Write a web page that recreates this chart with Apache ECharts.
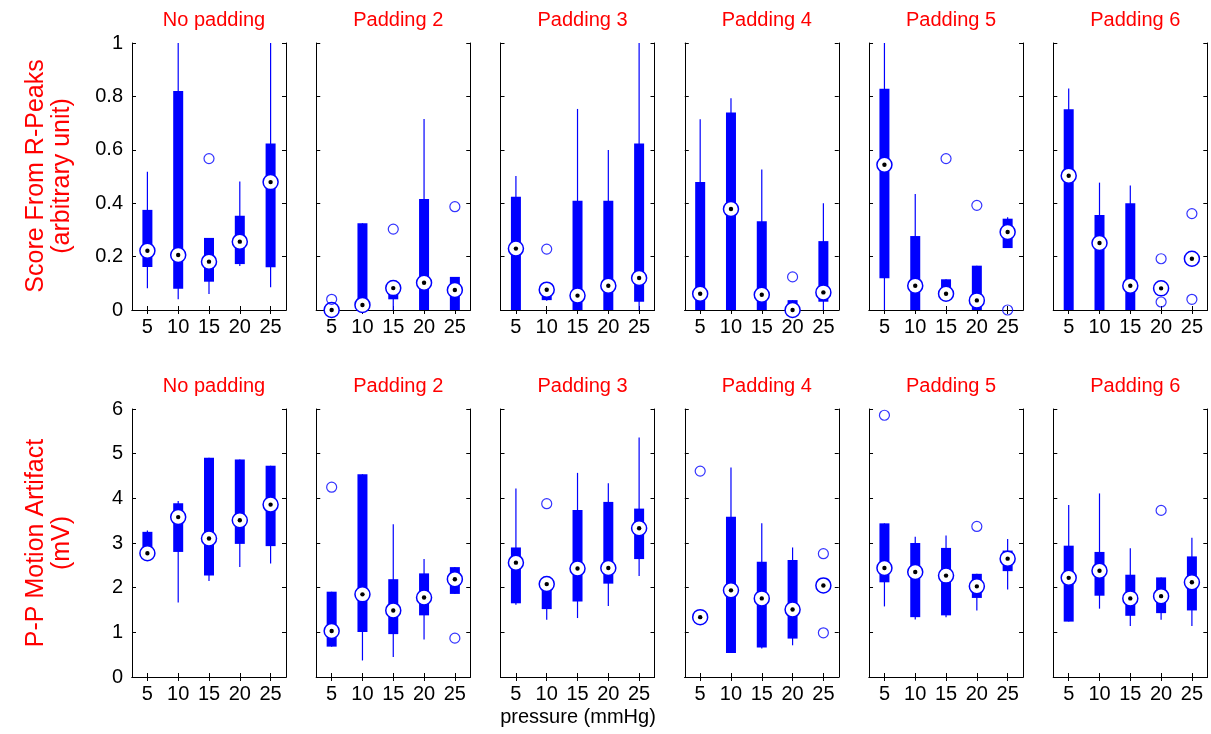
<!DOCTYPE html>
<html>
<head>
<meta charset="utf-8">
<script src="https://cdn.jsdelivr.net/npm/echarts@6/dist/echarts.min.js"></script>
<style>
  html, body { margin: 0; padding: 0; background: #ffffff; }
  #chart { width: 1211px; height: 734px; }
</style>
</head>
<body>
<div id="chart"></div>
<script>
// Pressure levels on every panel's x axis
const pressures = ['5', '10', '15', '20', '25'];
const panelTitles = ['No padding', 'Padding 2', 'Padding 3', 'Padding 4', 'Padding 5', 'Padding 6'];

// Score from R-peaks (arbitrary unit): one row of five pressures per padding level
const scoreLow  = [[0.081,0.040,0.060,0.165,0.085],[0,0,0,0,0],[0,0.035,0,0,0],[0,0,0,0,0],[0,0,0.05,0,0.232],[0,0,0,0.08,0.192]];
const scoreQ1   = [[0.161,0.080,0.106,0.172,0.160],[0,0,0.040,0,0],[0,0.037,0,0,0.031],[0,0,0,0,0.031],[0.119,0,0.05,0,0.232],[0,0,0,0.08,0.192]];
const scoreMed  = [[0.222,0.206,0.181,0.256,0.479],[0,0.019,0.082,0.102,0.075],[0.230,0.076,0.054,0.091,0.120],[0.061,0.378,0.057,0,0.066],[0.544,0.091,0.061,0.036,0.292],[0.503,0.251,0.091,0.081,0.192]];
const scoreQ3   = [[0.375,0.820,0.270,0.353,0.624],[0,0.325,0.096,0.416,0.124],[0.424,0.080,0.409,0.409,0.624],[0.479,0.740,0.332,0.037,0.258],[0.829,0.277,0.115,0.166,0.342],[0.752,0.356,0.400,0.082,0.192]];
const scoreHigh = [[0.518,1.0,0.270,0.481,1.0],[0,0.325,0.096,0.715,0.124],[0.502,0.080,0.753,0.599,1.0],[0.714,0.793,0.526,0.037,0.400],[1.0,0.434,0.115,0.166,0.347],[0.830,0.477,0.466,0.082,0.192]];
// Outliers as [pressure index, value]
const scoreOutliers = [[[2,0.567]],[[0,0.04],[2,0.303],[4,0.387]],[[1,0.228]],[[3,0.124]],[[2,0.567],[3,0.392],[4,0]],[[3,0.192],[3,0.030],[4,0.361],[4,0.040]]];

// P-P motion artifact (mV)
const ppLow  = [[2.77,1.67,2.15,2.46,2.54],[0.68,0.37,0.45,0.84,1.86],[1.62,1.28,1.32,1.59,2.26],[1.17,0.54,0.64,0.71,2.02],[1.58,1.29,1.34,1.49,1.96],[1.24,1.53,1.14,1.28,1.14]];
const ppQ1   = [[2.77,2.80,2.27,2.98,2.93],[0.68,1.01,0.96,1.38,1.86],[1.65,1.52,1.69,2.09,2.64],[1.34,0.54,0.66,0.86,2.02],[2.12,1.34,1.38,1.77,2.37],[1.24,1.82,1.37,1.43,1.49]];
const ppMed  = [[2.77,3.58,3.10,3.51,3.86],[1.03,1.85,1.49,1.78,2.19],[2.56,2.08,2.43,2.44,3.33],[1.34,1.94,1.76,1.51,2.05],[2.44,2.35,2.27,2.03,2.65],[2.22,2.38,1.76,1.81,2.12]];
const ppQ3   = [[3.25,3.89,4.91,4.87,4.73],[1.91,4.54,2.19,2.32,2.46],[2.90,2.10,3.74,3.92,3.77],[1.34,3.59,2.58,2.62,2.20],[3.44,3.00,2.89,2.31,2.83],[2.94,2.80,2.29,2.23,2.70]];
const ppHigh = [[3.28,3.94,4.91,4.87,4.73],[1.91,4.54,3.42,2.64,2.46],[4.22,2.10,4.57,4.34,5.36],[1.34,4.69,3.44,2.90,2.20],[3.44,3.14,3.17,2.31,3.09],[3.85,4.11,2.88,2.23,3.12]];
const ppOutliers = [[],[[0,4.25],[4,0.87]],[[1,3.88]],[[0,4.61],[4,2.76],[4,0.99]],[[0,5.86],[3,3.37]],[[3,3.73]]];

const BLUE = '#0000ff';
const RED = '#ff0000';
const FONT = 'Liberation Sans, Arial, sans-serif';

const rows = [
  { top: 43, height: 267, max: 1, interval: 0.2,
    low: scoreLow, q1: scoreQ1, med: scoreMed, q3: scoreQ3, high: scoreHigh, out: scoreOutliers },
  { top: 409, height: 268, max: 6, interval: 1,
    low: ppLow, q1: ppQ1, med: ppMed, q3: ppQ3, high: ppHigh, out: ppOutliers }
];
const panelLeft0 = 132, panelStep = 184.26, panelWidth = 154;

// Box glyph: thin whisker, thick box, circled median with a centre dot
function renderBox(params, api) {
  const cat = api.value(0);
  const x = api.coord([cat, 0])[0];
  const yLo = api.coord([cat, api.value(1)])[1];
  const yQ1 = api.coord([cat, api.value(2)])[1];
  const yMed = api.coord([cat, api.value(3)])[1];
  const yQ3 = api.coord([cat, api.value(4)])[1];
  const yHi = api.coord([cat, api.value(5)])[1];
  return {
    type: 'group',
    children: [
      { type: 'line', shape: { x1: x, y1: yHi, x2: x, y2: yLo }, style: { stroke: BLUE, lineWidth: 1.2 } },
      { type: 'rect', shape: { x: x - 5, y: yQ3, width: 10, height: Math.max(yQ1 - yQ3, 0) }, style: { fill: BLUE } },
      { type: 'circle', shape: { cx: x, cy: yMed, r: 7.5 }, style: { fill: '#ffffff', stroke: BLUE, lineWidth: 1.5 } },
      { type: 'circle', shape: { cx: x, cy: yMed, r: 2.2 }, style: { fill: '#000000' } }
    ]
  };
}

const grid = [], xAxis = [], yAxis = [], series = [], title = [];
const axisLine = { show: true, lineStyle: { color: '#000', width: 1 } };
const axisTick = { show: true, inside: true, length: 4, lineStyle: { color: '#000' } };

rows.forEach((row, r) => {
  for (let p = 0; p < 6; p++) {
    const gi = grid.length;
    const left = panelLeft0 + p * panelStep;
    grid.push({ left: left, top: row.top, width: panelWidth, height: row.height, containLabel: false });
    title.push({
      text: panelTitles[p], left: left + panelWidth / 2, top: row.top - 38, textAlign: 'center',
      textStyle: { color: RED, fontSize: 20, fontWeight: 'normal', fontFamily: FONT }
    });
    // bottom (labelled) and top (ticks only) category axes
    xAxis.push({
      type: 'category', gridIndex: gi, data: pressures, position: 'bottom', boundaryGap: true,
      axisLine: axisLine, axisTick: Object.assign({ alignWithLabel: true }, axisTick),
      axisLabel: { color: '#000', fontSize: 20, fontFamily: FONT, margin: 7 },
      splitLine: { show: false }
    });
    xAxis.push({
      type: 'category', gridIndex: gi, data: pressures, position: 'top', boundaryGap: true,
      axisLine: axisLine, axisTick: Object.assign({ alignWithLabel: true }, axisTick),
      axisLabel: { show: false }, splitLine: { show: false }
    });
    // left (labelled on first panel) and right (ticks only) value axes
    yAxis.push({
      type: 'value', gridIndex: gi, min: 0, max: row.max, interval: row.interval, position: 'left',
      axisLine: axisLine, axisTick: axisTick,
      axisLabel: { show: p === 0, color: '#000', fontSize: 20, fontFamily: FONT, margin: 9 },
      splitLine: { show: false }
    });
    yAxis.push({
      type: 'value', gridIndex: gi, min: 0, max: row.max, interval: row.interval, position: 'right',
      axisLine: axisLine, axisTick: axisTick, axisLabel: { show: false }, splitLine: { show: false }
    });
    const boxes = pressures.map((_, c) => [c, row.low[p][c], row.q1[p][c], row.med[p][c], row.q3[p][c], row.high[p][c]]);
    series.push({
      type: 'custom', xAxisIndex: gi * 2, yAxisIndex: gi * 2, renderItem: renderBox,
      data: boxes, clip: false, silent: true, z: 2
    });
    series.push({
      type: 'scatter', xAxisIndex: gi * 2, yAxisIndex: gi * 2, data: row.out[p],
      symbol: 'circle', symbolSize: 10, clip: false, silent: true, z: 3,
      itemStyle: { color: 'rgba(0,0,0,0)', borderColor: BLUE, borderWidth: 1.2 }
    });
  }
});

const chart = echarts.init(document.getElementById('chart'), null, { renderer: 'canvas' });
chart.setOption({
  animation: false,
  backgroundColor: '#ffffff',
  title: title,
  grid: grid,
  xAxis: xAxis,
  yAxis: yAxis,
  series: series,
  graphic: [
    { type: 'text', x: 36, y: 176, rotation: Math.PI / 2,
      style: { text: 'Score From R-Peaks', fill: RED, font: '25px ' + FONT, textAlign: 'center', textVerticalAlign: 'middle' } },
    { type: 'text', x: 62, y: 176, rotation: Math.PI / 2,
      style: { text: '(arbitrary unit)', fill: RED, font: '25px ' + FONT, textAlign: 'center', textVerticalAlign: 'middle' } },
    { type: 'text', x: 36, y: 543, rotation: Math.PI / 2,
      style: { text: 'P-P Motion Artifact', fill: RED, font: '25px ' + FONT, textAlign: 'center', textVerticalAlign: 'middle' } },
    { type: 'text', x: 62, y: 543, rotation: Math.PI / 2,
      style: { text: '(mV)', fill: RED, font: '25px ' + FONT, textAlign: 'center', textVerticalAlign: 'middle' } },
    { type: 'text', x: 578, y: 717,
      style: { text: 'pressure (mmHg)', fill: '#000', font: '20px ' + FONT, textAlign: 'center', textVerticalAlign: 'middle' } }
  ]
});
</script>
</body>
</html>
